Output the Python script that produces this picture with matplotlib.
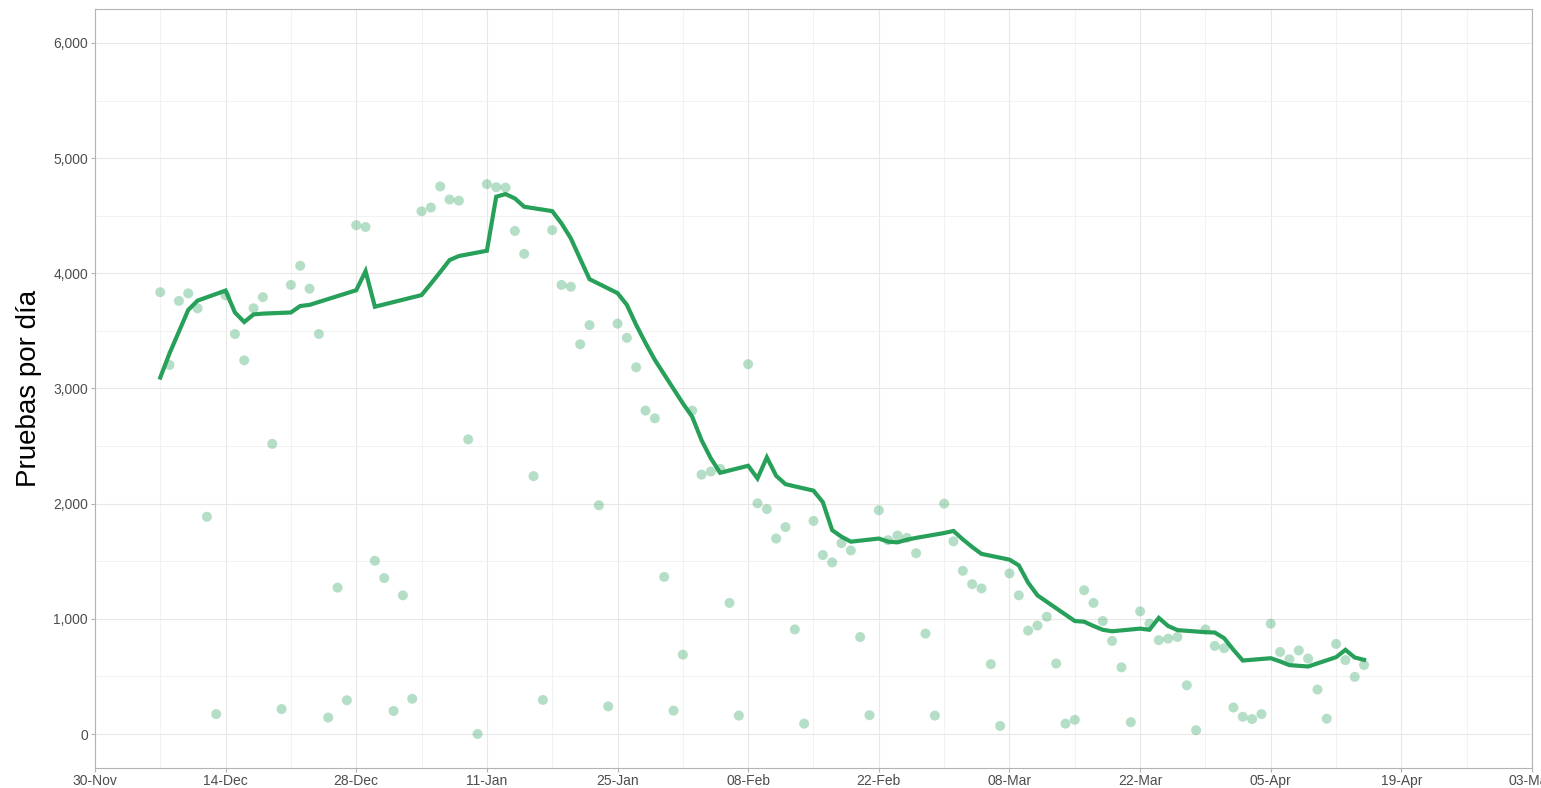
import matplotlib
matplotlib.use('Agg')
import matplotlib.pyplot as plt
import matplotlib.dates as mdates
import matplotlib.ticker as mticker
import pandas as pd

plt.rcParams['font.family'] = ['Liberation Sans', 'DejaVu Sans']

# pruebas diarias, 7-dic-2020 a 15-abr-2021
fecha_inicio = '2020-12-07'
pruebas = [
    3836, 3204, 3760, 3826, 3696, 1886, 173,          # 7-13 dic
    3809, 3473, 3244, 3696, 3793, 2519, 216,          # 14-20 dic
    3899, 4066, 3866, 3473, 143, 1271, 293,           # 21-27 dic
    4418, 4402, 1504, 1354, 200, 1204, 306,           # 28 dic - 3 ene
    4538, 4571, 4754, 4641, 4631, 2558, 0,            # 4-10 ene
    4774, 4748, 4744, 4368, 4169, 2239, 296,          # 11-17 ene
    4375, 3899, 3883, 3384, 3550, 1986, 240,          # 18-24 ene
    3563, 3440, 3184, 2808, 2741, 1364, 203,          # 25-31 ene
    689, 2808, 2252, 2279, 2302, 1138, 160,           # 1-7 feb
    3211, 2003, 1953, 1697, 1797, 908, 90,            # 8-14 feb
    1850, 1554, 1490, 1657, 1594, 842, 163,           # 15-21 feb
    1943, 1683, 1723, 1703, 1570, 872, 160,           # 22-28 feb
    2000, 1673, 1417, 1301, 1264, 606, 70,            # 1-7 mar
    1394, 1204, 898, 942, 1018, 612, 90,              # 8-14 mar
    123, 1248, 1138, 981, 808, 579, 103,              # 15-21 mar
    1065, 958, 815, 828, 842, 423, 33,                # 22-28 mar
    908, 765, 745, 230, 150, 130, 173,                # 29 mar - 4 abr
    958, 712, 649, 725, 655, 386, 133,                # 5-11 abr
    782, 642, 496, 599,                               # 12-15 abr
]

# promedio movil (solo dias habiles)
fechas_promedio = [
    '2020-12-07', '2020-12-08', '2020-12-09', '2020-12-10', '2020-12-11',
    '2020-12-14', '2020-12-15', '2020-12-16', '2020-12-17', '2020-12-18',
    '2020-12-21', '2020-12-22', '2020-12-23', '2020-12-28', '2020-12-29',
    '2020-12-30', '2021-01-04', '2021-01-05', '2021-01-06', '2021-01-07',
    '2021-01-08', '2021-01-11', '2021-01-12', '2021-01-13', '2021-01-14',
    '2021-01-15', '2021-01-18', '2021-01-19', '2021-01-20', '2021-01-21',
    '2021-01-22', '2021-01-25', '2021-01-26', '2021-01-27', '2021-01-28',
    '2021-01-29', '2021-02-01', '2021-02-02', '2021-02-03', '2021-02-04',
    '2021-02-05', '2021-02-08', '2021-02-09', '2021-02-10', '2021-02-11',
    '2021-02-12', '2021-02-15', '2021-02-16', '2021-02-17', '2021-02-18',
    '2021-02-19', '2021-02-22', '2021-02-23', '2021-02-24', '2021-02-25',
    '2021-02-26', '2021-03-01', '2021-03-02', '2021-03-03', '2021-03-04',
    '2021-03-05', '2021-03-08', '2021-03-09', '2021-03-10', '2021-03-11',
    '2021-03-12', '2021-03-15', '2021-03-16', '2021-03-17', '2021-03-18',
    '2021-03-19', '2021-03-22', '2021-03-23', '2021-03-24', '2021-03-25',
    '2021-03-26', '2021-03-29', '2021-03-30', '2021-03-31', '2021-04-01',
    '2021-04-02', '2021-04-05', '2021-04-06', '2021-04-07', '2021-04-08',
    '2021-04-09', '2021-04-12', '2021-04-13', '2021-04-14', '2021-04-15',
]
promedio = [
    3095, 3306, 3494, 3682, 3763,
    3850, 3660, 3577, 3643, 3650,
    3660, 3716, 3726, 3853, 4019,
    3710, 3811, 3910, 4011, 4115,
    4150, 4196, 4665, 4688, 4650,
    4578, 4540, 4433, 4303, 4125,
    3949, 3828, 3726, 3552, 3395,
    3248, 2871, 2755, 2552, 2393,
    2268, 2329, 2219, 2402, 2242,
    2169, 2113, 2013, 1770, 1713,
    1670, 1697, 1670, 1664, 1687,
    1703, 1745, 1763, 1690, 1624,
    1564, 1514, 1464, 1314, 1204,
    1148, 981, 975, 938, 905,
    892, 915, 905, 1008, 938,
    902, 884, 881, 832, 731,
    638, 658, 630, 598, 592,
    586, 667, 731, 664, 644,
]

color_linea = '#27a05a'
color_punto = '#2ca25f'

fechas = pd.date_range(fecha_inicio, periods=len(pruebas), freq='D')
fechas_prom = pd.to_datetime(fechas_promedio)

fig = plt.figure(figsize=(15.41, 7.88), dpi=100)
ax = fig.add_axes([0.0616, 0.0254, 0.9326, 0.9632])

ax.scatter(fechas, pruebas, s=52, color=color_punto, alpha=0.35,
           edgecolors='none', zorder=2)
ax.plot(fechas_prom, promedio, color=color_linea, linewidth=3.0,
        solid_joinstyle='miter', zorder=3)

# ejes
ax.set_xlim(pd.Timestamp('2020-11-30'), pd.Timestamp('2021-05-03'))
ax.set_ylim(-295, 6295)

ticks_x = pd.date_range('2020-11-30', '2021-05-03', freq='14D')
ax.set_xticks(ticks_x)
ax.xaxis.set_major_formatter(mdates.DateFormatter('%d-%b'))
ax.set_xticks(ticks_x[:-1] + pd.Timedelta(days=7), minor=True)

ax.yaxis.set_major_locator(mticker.MultipleLocator(1000))
ax.yaxis.set_minor_locator(mticker.MultipleLocator(500))
ax.yaxis.set_major_formatter(mticker.FuncFormatter(lambda v, p: f'{int(v):,}'))

ax.grid(which='major', color='#e8e8e8', linewidth=0.8)
ax.grid(which='minor', color='#f0f0f0', linewidth=0.6)
ax.set_axisbelow(True)

for lado in ax.spines.values():
    lado.set_color('#b3b3b3')
    lado.set_linewidth(0.8)

ax.tick_params(which='major', length=3, width=0.8, color='#b3b3b3',
               labelsize=10, labelcolor='#4d4d4d', pad=2)
ax.tick_params(axis='x', which='major', pad=1)
ax.tick_params(which='minor', length=0)

ax.set_ylabel('Pruebas por día', fontsize=20, color='black')
ax.yaxis.set_label_coords(-0.037, 0.5)

fig.savefig('out.png', dpi=100)
plt.close(fig)
